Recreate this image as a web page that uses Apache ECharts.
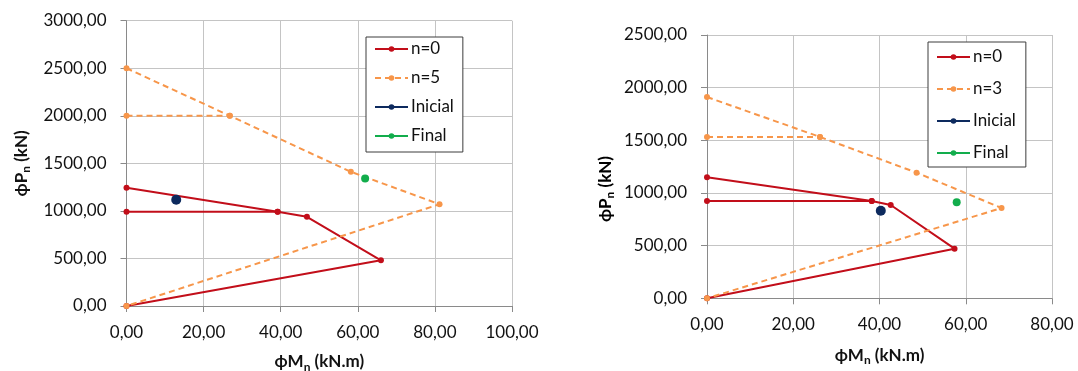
<!DOCTYPE html>
<html>
<head>
<meta charset="utf-8">
<script src="https://cdn.jsdelivr.net/npm/echarts@6/dist/echarts.min.js"></script>
<style>
  html, body { margin: 0; padding: 0; background: #fff; }
  #chart { width: 1078px; height: 371px; }
</style>
</head>
<body>
<div id="chart"></div>
<script>
// Interaction diagrams: phi*Mn (kN.m) vs phi*Pn (kN)

// Left diagram (n=0 / n=5)
const leftN0Curve = [[0, 1243], [39.2, 990], [46.8, 938], [66.0, 480], [0, 0]];
const leftN0Cut   = [[0, 990], [39.2, 990]];
const leftN5Curve = [[0, 2500], [26.8, 2000], [58.2, 1411], [81.2, 1070], [0, 0]];
const leftN5Cut   = [[0, 2000], [26.8, 2000]];
const leftInicial = [[12.9, 1117]];
const leftFinal   = [[61.9, 1341]];

// Right diagram (n=0 / n=3)
const rightN0Curve = [[0, 1149], [38.2, 924], [42.6, 886], [57.4, 471], [0, 0]];
const rightN0Cut   = [[0, 924], [38.2, 924]];
const rightN3Curve = [[0, 1911], [26.2, 1532], [48.6, 1193], [68.3, 857], [0, 0]];
const rightN3Cut   = [[0, 1532], [26.2, 1532]];
const rightInicial = [[40.3, 832]];
const rightFinal   = [[57.9, 911]];

// Axis ranges and tick steps
const leftXTicks  = { min: 0, max: 100, step: 20 };
const leftYTicks  = { min: 0, max: 3000, step: 500 };
const rightXTicks = { min: 0, max: 80, step: 20 };
const rightYTicks = { min: 0, max: 2500, step: 500 };

const legendLeft  = ['n=0', 'n=5', 'Inicial', 'Final'];
const legendRight = ['n=0', 'n=3', 'Inicial', 'Final'];

const xTitle = '{b|ϕM}{s|n}{b| (kN.m)}';
const yTitle = '{b|ϕP}{s|n}{b| (kN)}';

const FONT = 'Lato';
const RED = '#c20e1a';
const ORANGE = '#f7964a';
const NAVY = '#0d2a5e';
const GREEN = '#12ad4c';
const AXIS_GREY = '#8a8a8a';
const GRID_GREY = '#c4c4c4';

const fmt = v => v.toFixed(2).replace('.', ',');

const nameRich = {
  b: { fontFamily: FONT, fontSize: 17, fontWeight: 'bold', color: '#111', verticalAlign: 'middle' },
  s: { fontFamily: FONT, fontSize: 12, fontWeight: 'bold', color: '#111', verticalAlign: 'middle', padding: [10, 0, 0, 0] }
};

function xAxis(gridIndex, t, gap) {
  return {
    type: 'value', gridIndex, min: t.min, max: t.max, interval: t.step,
    name: xTitle, nameLocation: 'middle', nameGap: gap,
    nameTextStyle: { rich: nameRich },
    axisLine: { show: true, lineStyle: { color: AXIS_GREY, width: 1 } },
    axisTick: { show: true, length: 6, lineStyle: { color: AXIS_GREY } },
    splitLine: { show: true, lineStyle: { color: GRID_GREY, width: 1 } },
    axisLabel: { formatter: fmt, fontFamily: FONT, fontSize: 17, color: '#111', margin: 18, showMaxLabel: true, showMinLabel: true }
  };
}
function yAxis(gridIndex, t, withName) {
  return {
    type: 'value', gridIndex, min: t.min, max: t.max, interval: t.step,
    name: withName ? yTitle : '', nameLocation: 'middle', nameGap: 94, nameRotate: 90,
    nameTextStyle: { rich: nameRich },
    axisLine: { show: true, lineStyle: { color: AXIS_GREY, width: 1 } },
    axisTick: { show: true, length: 6, lineStyle: { color: AXIS_GREY } },
    splitLine: { show: true, lineStyle: { color: GRID_GREY, width: 1 } },
    axisLabel: { formatter: fmt, fontFamily: FONT, fontSize: 17, color: '#111', margin: 20 }
  };
}

function curve(name, idx, data, color, dashed) {
  return {
    type: 'line', name, xAxisIndex: idx, yAxisIndex: idx, data,
    symbol: 'circle', symbolSize: 6, animation: false,
    lineStyle: { color, width: 2, type: dashed ? [6, 4] : 'solid' },
    itemStyle: { color }
  };
}
function point(name, idx, data, color, size) {
  return {
    type: 'line', name, xAxisIndex: idx, yAxisIndex: idx, data,
    symbol: 'circle', symbolSize: size, animation: false,
    lineStyle: { color, width: 3 },
    itemStyle: { color }
  };
}

function legend(left, top, padding, gap, data) {
  return {
    orient: 'vertical', left, top, padding, itemGap: gap,
    itemWidth: 33, itemHeight: 7,
    backgroundColor: '#fff', borderColor: '#3c3c3c', borderWidth: 1,
    textStyle: { fontFamily: FONT, fontSize: 17, color: '#111', lineHeight: 18, padding: [0, 0, 0, -2] },
    data
  };
}

const chart = echarts.init(document.getElementById('chart'), null, { renderer: 'canvas' });
chart.setOption({
  backgroundColor: '#fff',
  animation: false,
  grid: [
    { left: 126.5, top: 20.7, width: 385.5, height: 285.3, outerBoundsMode: 'none', containLabel: false },
    { left: 707, top: 35, width: 345, height: 263.3, outerBoundsMode: 'none', containLabel: false }
  ],
  xAxis: [xAxis(0, leftXTicks, 45), xAxis(1, rightXTicks, 46)],
  yAxis: [yAxis(0, leftYTicks, true), yAxis(1, rightYTicks, false)],
  legend: [
    legend(366, 37, [3, 9, 7, 8], 11, legendLeft),
    legend(928, 42, [6, 10, 5, 8], 14, legendRight)
  ],
  graphic: [
    {
      type: 'text', x: 605.5, y: 189, rotation: Math.PI / 2,
      style: { text: yTitle, rich: nameRich, align: 'center', verticalAlign: 'middle' }
    }
  ],
  series: [
    curve('n=0', 0, leftN0Curve, RED, false),
    curve('n=0', 0, leftN0Cut, RED, false),
    curve('n=5', 0, leftN5Curve, ORANGE, true),
    curve('n=5', 0, leftN5Cut, ORANGE, true),
    point('Inicial', 0, leftInicial, NAVY, 10),
    point('Final', 0, leftFinal, GREEN, 8),
    curve('n=0', 1, rightN0Curve, RED, false),
    curve('n=0', 1, rightN0Cut, RED, false),
    curve('n=3', 1, rightN3Curve, ORANGE, true),
    curve('n=3', 1, rightN3Cut, ORANGE, true),
    point('Inicial', 1, rightInicial, NAVY, 10),
    point('Final', 1, rightFinal, GREEN, 8)
  ]
});
</script>
</body>
</html>
